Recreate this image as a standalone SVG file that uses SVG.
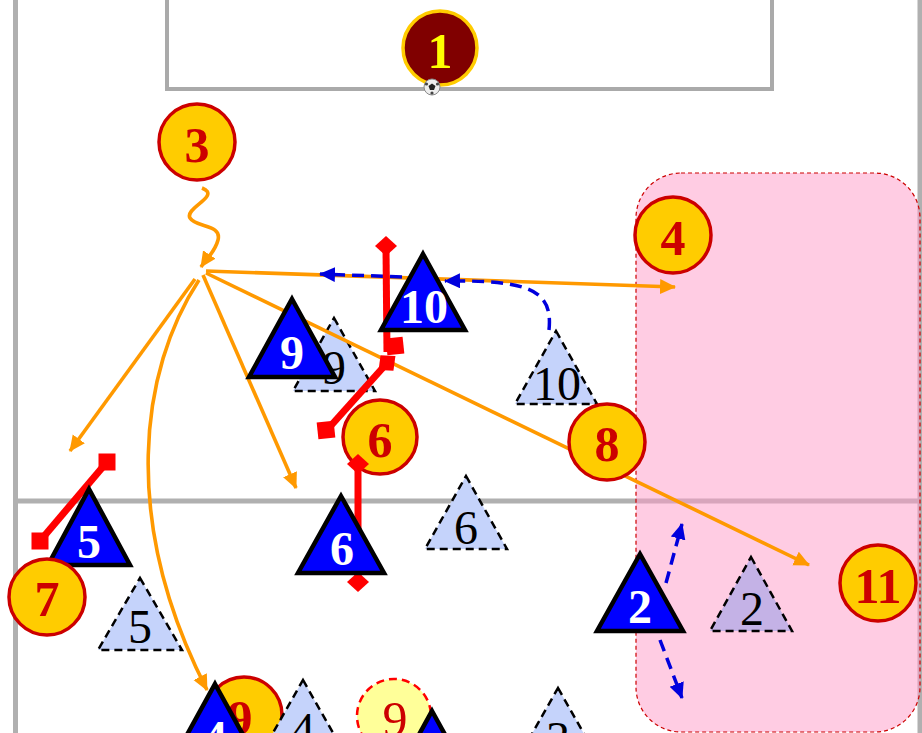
<svg xmlns="http://www.w3.org/2000/svg" width="922" height="733" viewBox="0 0 922 733">
<defs>
<style>
.fl{stroke:#b0b0b0;stroke-width:5;fill:none}
.ci{fill:#ffcc00;stroke:#cc0000;stroke-width:3.5}
.cn{font-family:"Liberation Serif",serif;font-weight:bold;font-size:50px;fill:#cc0000;text-anchor:middle}
.bt{fill:#0000ff;stroke:#000;stroke-width:4.5}
.btn{font-family:"Liberation Serif",serif;font-weight:bold;font-size:48px;fill:#fff;text-anchor:middle}
.gt{fill:#c5d3fb;stroke:#000;stroke-width:2.5;stroke-dasharray:8 5}
.gtn{font-family:"Liberation Serif",serif;font-size:48px;fill:#000;text-anchor:middle}
.rl{stroke:#ff0000;stroke-width:7;fill:none}
.rf{fill:#ff0000}
.or{stroke:#ff9900;stroke-width:3.6;fill:none;marker-end:url(#ah)}
.bl{stroke:#0000dd;stroke-width:3.5;fill:none;stroke-dasharray:12 7;marker-end:url(#bh)}
</style>
<marker id="ah" markerUnits="userSpaceOnUse" markerWidth="18" markerHeight="16" refX="15" refY="7.5" orient="auto"><path d="M0,0 L16,7.5 L0,15 Z" fill="#ff9900"/></marker>
<marker id="bh" markerUnits="userSpaceOnUse" markerWidth="18" markerHeight="16" refX="15" refY="7.5" orient="auto"><path d="M0,0 L16,7.5 L0,15 Z" fill="#0000dd"/></marker>
<rect id="sq" x="-8.5" y="-8.5" width="17" height="17" class="rf"/>
<path id="dm" d="M0,-10 L11,0 L0,10 L-11,0 Z" class="rf"/>
</defs>
<rect width="922" height="733" fill="#fff"/>
<g id="field">
<line class="fl" x1="15.5" y1="0" x2="15.5" y2="733"/>
<line class="fl" x1="920" y1="0" x2="920" y2="733"/>
<line class="fl" x1="15" y1="501" x2="922" y2="501"/>
<path d="M167,0 V89 H772 V0" fill="none" stroke="#aaaaaa" stroke-width="4"/>
</g>
<g id="zone">
<rect x="636" y="173" width="284" height="559" rx="45" fill="#ff99c8" fill-opacity="0.5" stroke="#cc0000" stroke-width="1.2" stroke-dasharray="4 3"/>
</g>
<g id="c9a"><circle class="ci" cx="244" cy="715" r="38"/><text class="cn" x="240" y="735">9</text></g>
<g id="c9b"><circle cx="394" cy="716" r="37" fill="#ffff99" stroke="#ff0000" stroke-width="2.5" stroke-dasharray="8 5"/><text class="cn" style="font-weight:normal" x="395" y="736">9</text></g>
<g id="g9"><path class="gt" d="M334,318 L375,391 L293,391 Z"/><text class="gtn" x="334" y="384">9</text></g>
<g id="g10"><path class="gt" d="M556,331 L597,404 L515,404 Z"/><text class="gtn" x="557" y="400">10</text></g>
<g id="g6"><path class="gt" d="M466,476 L507,549 L425,549 Z"/><text class="gtn" x="466" y="544">6</text></g>
<g id="g5"><path class="gt" d="M140,578 L182,650 L98,650 Z"/><text class="gtn" x="140" y="643">5</text></g>
<g id="g2"><path class="gt" style="fill:#c4b2e6" d="M751,557 L792,631 L710,631 Z"/><text class="gtn" x="752" y="625">2</text></g>
<g id="g4"><path class="gt" d="M303,680 L345,754 L261,754 Z"/><text class="gtn" x="303" y="746">4</text></g>
<g id="g3"><path class="gt" d="M558,688 L600,762 L516,762 Z"/><text class="gtn" x="558" y="755">3</text></g>
<g id="c6"><circle class="ci" cx="380" cy="437" r="37"/><text class="cn" x="380" y="457">6</text></g>
<g id="connectors">
<path class="or" d="M202,188 C222,196 184,208 190,218 C196,228 222,224 218,240 C215,252 207,258 201,267"/>
<path class="or" d="M206,271 L675,287"/>
<path class="or" d="M195,279 L70,451"/>
<path class="or" d="M203,275 L296,488"/>
<path class="or" d="M206,273 L809,565"/>
<path class="or" d="M199,280 C140,370 120,520 207,690"/>
<path class="bl" d="M549,330 C553,290 530,280 445,281"/>
<path class="bl" d="M402,277 L320,274"/>
<path class="bl" d="M666,583 L682,524"/>
<path class="bl" d="M660,640 L682,698"/>
</g>
<g id="blocks">
<line class="rl" x1="386" y1="248" x2="387" y2="352"/>
<use href="#dm" x="386" y="246"/>
<use href="#sq" transform="translate(395,346) rotate(-6)"/>
<line class="rl" x1="327" y1="430" x2="388" y2="362"/>
<use href="#sq" transform="translate(326,430) rotate(-6)"/>
<use href="#dm" transform="translate(387,363) rotate(-40)"/>
<line class="rl" x1="40" y1="541" x2="107" y2="462"/>
<use href="#sq" x="107" y="462"/>
<use href="#sq" x="40" y="541"/>
<line class="rl" x1="358" y1="465" x2="358" y2="581"/>
<use href="#dm" x="358" y="464"/>
<use href="#dm" x="358" y="582"/>
</g>
<g id="t10"><path class="bt" d="M423,254 L465,330 L381,330 Z"/><text class="btn" x="424" y="323">10</text></g>
<g id="t9"><path class="bt" d="M292,299 L335,377 L249,377 Z"/><text class="btn" x="292" y="369">9</text></g>
<g id="t5"><path class="bt" d="M89,489 L130,565 L48,565 Z"/><text class="btn" x="89" y="558">5</text></g>
<g id="t6"><path class="bt" d="M341,496 L384,573 L298,573 Z"/><text class="btn" x="342" y="565">6</text></g>
<g id="t2"><path class="bt" d="M640,554 L683,631 L597,631 Z"/><text class="btn" x="640" y="623">2</text></g>
<g id="t4"><path class="bt" d="M215,684 L258,762 L172,762 Z"/><text class="btn" x="215" y="754">4</text></g>
<g id="t3"><path class="bt" d="M432,711 L475,789 L389,789 Z"/></g>
<g id="c7"><circle class="ci" cx="47" cy="597" r="38"/><text class="cn" x="47" y="616">7</text></g>
<g id="c8"><circle class="ci" cx="607" cy="442" r="38"/><text class="cn" x="607" y="461">8</text></g>
<g id="c3"><circle class="ci" cx="197" cy="142" r="38"/><text class="cn" x="197" y="162">3</text></g>
<g id="c4"><circle class="ci" cx="673" cy="235" r="38"/><text class="cn" x="673" y="255">4</text></g>
<g id="c11"><circle class="ci" cx="878" cy="583" r="38"/><text class="cn" x="878" y="603">11</text></g>
<g id="c1"><circle cx="440" cy="48" r="37" fill="#800000" stroke="#ffcc00" stroke-width="3.5"/><text class="cn" style="fill:#ffff00" x="440" y="68">1</text></g>
<g id="ball"><circle cx="432" cy="87" r="8" fill="#eee" stroke="#888" stroke-width="1"/><path d="M432,83.5 L435.5,86 L434,90 L430,90 L428.5,86 Z" fill="#222"/><circle cx="426.5" cy="84" r="1.6" fill="#444"/><circle cx="437.5" cy="84" r="1.6" fill="#444"/><circle cx="432" cy="93" r="1.6" fill="#444"/></g>
</svg>
